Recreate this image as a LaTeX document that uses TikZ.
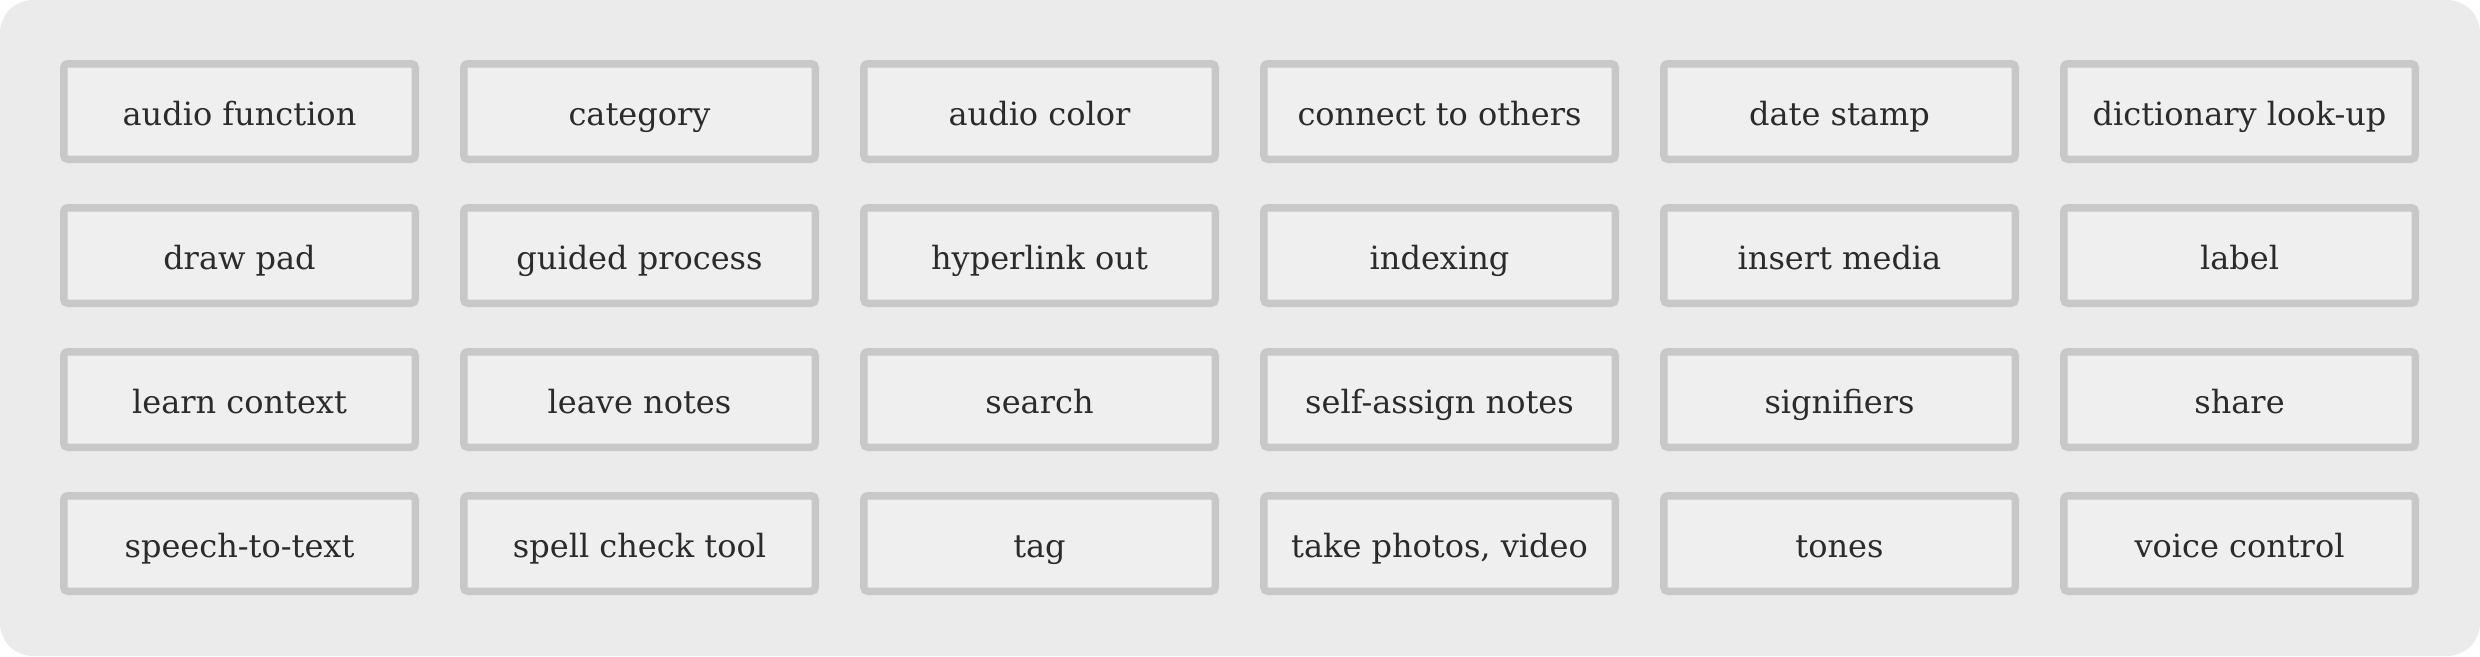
\documentclass[tikz,border=0pt]{standalone}
\usepackage{fontspec}
\setmainfont{DejaVu Serif}
\definecolor{bgc}{HTML}{EBEBEB}
\definecolor{boxfill}{HTML}{EFEFEF}
\definecolor{boxline}{HTML}{C8C8C8}
\definecolor{txt}{HTML}{2B2B2B}
\begin{document}
\begin{tikzpicture}[x=1pt,y=-1pt,
  featbox/.style={draw=boxline, fill=boxfill, line width=7.5pt, rounded corners=4pt,
    minimum width=351.5pt, minimum height=95.5pt, inner sep=0pt,
    text height=27pt, text depth=0pt, text=txt,
    font=\fontsize{32}{40}\selectfont}]
\useasboundingbox (0,0) rectangle (2480,656);
\fill[bgc, rounded corners=33pt] (0,0) rectangle (2480,656);
\foreach \r/\row in {0/{audio function,category,audio color,connect to others,date stamp,dictionary look-up},
                     1/{draw pad,guided process,hyperlink out,indexing,insert media,label},
                     2/{learn context,leave notes,search,self-assign notes,signifiers,share},
                     3/{speech-to-text,spell check tool,tag,{take photos, video},tones,voice control}}{
  \foreach \t [count=\c from 0] in \row {
    \node[featbox] (b-\r-\c) at ({239.5+400*\c},{111.5+144*\r}) {\t};
  }
}
\end{tikzpicture}
\end{document}
